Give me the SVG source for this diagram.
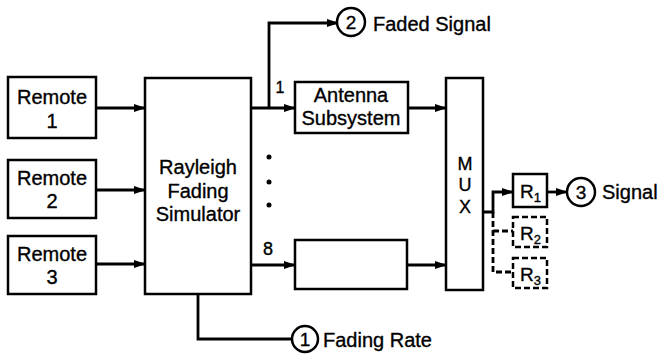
<svg xmlns="http://www.w3.org/2000/svg" width="661" height="355" viewBox="0 0 661 355">
<style>
.box{fill:#fff;stroke:#000;stroke-width:2.5}
.dbox{fill:#fff;stroke:#000;stroke-width:2.5;stroke-dasharray:6 3}
.ln{fill:none;stroke:#000;stroke-width:2.8}
.dln{fill:none;stroke:#000;stroke-width:2.8;stroke-dasharray:6 3}
.arr{marker-end:url(#ah)}
text{font-family:"Liberation Sans",Arial,sans-serif;font-size:20px;fill:#000;stroke:#000;stroke-width:0.35}
.c{text-anchor:middle}
.circ{fill:#fff;stroke:#000;stroke-width:2.5}
</style>
<defs>
<marker id="ah" markerWidth="12" markerHeight="10" refX="11" refY="5" orient="auto" markerUnits="userSpaceOnUse">
<path d="M0,1 L12,5 L0,9 Z" fill="#000"/>
</marker>
</defs>
<g id="connectors">
<path class="ln arr" d="M96,108 H145"/>
<path class="ln arr" d="M96,190 H145"/>
<path class="ln arr" d="M96,264 H145"/>
<path class="ln arr" d="M251,108 H295"/>
<path class="ln arr" d="M269,108 V23 H338"/>
<path class="ln arr" d="M251,265 H295"/>
<path class="ln arr" d="M408,108 H446"/>
<path class="ln arr" d="M408,265 H446"/>
<path class="ln" d="M198,294 V339 H292"/>
<path class="ln arr" d="M483,212 H493 V192 H513"/>
<path class="dln" d="M493,212 V272 H513"/>
<path class="dln" d="M493,231 H513"/>
<path class="ln arr" d="M547,192 H567"/>
<circle cx="269" cy="157" r="2.5" fill="#000"/>
<circle cx="269" cy="182" r="2.5" fill="#000"/>
<circle cx="269" cy="205" r="2.5" fill="#000"/>
<text x="280" y="93" class="c" style="font-size:16px">1</text>
<text x="268" y="255" class="c" style="font-size:18px">8</text>
</g>
<g id="remote1"><rect class="box" x="8" y="77" width="88" height="61"/><text x="52" y="104" class="c">Remote</text><text x="52" y="128" class="c">1</text></g>
<g id="remote2"><rect class="box" x="8" y="160" width="88" height="58"/><text x="52" y="185" class="c">Remote</text><text x="52" y="208" class="c">2</text></g>
<g id="remote3"><rect class="box" x="8" y="236" width="88" height="58"/><text x="52" y="261" class="c">Remote</text><text x="52" y="284" class="c">3</text></g>
<g id="rayleigh"><rect class="box" x="145" y="78" width="106" height="216"/><text x="198" y="174" class="c">Rayleigh</text><text x="198" y="198" class="c">Fading</text><text x="198" y="221" class="c">Simulator</text></g>
<g id="antenna"><rect class="box" x="295" y="82" width="113" height="51"/><text x="351" y="102" class="c">Antenna</text><text x="351" y="125" class="c">Subsystem</text></g>
<g id="box8"><rect class="box" x="295" y="240" width="112" height="49"/></g>
<g id="mux"><rect class="box" x="446" y="78" width="37" height="212"/><text x="465" y="170" class="c" style="font-size:18px">M</text><text x="465" y="191" class="c" style="font-size:18px">U</text><text x="465" y="213" class="c" style="font-size:18px">X</text></g>
<g id="r1"><rect class="box" x="513" y="174" width="34" height="33"/><text x="520" y="198" style="font-size:19px">R<tspan dy="4" style="font-size:13px">1</tspan></text></g>
<g id="r2"><rect class="dbox" x="513" y="217" width="34" height="30"/><text x="520" y="240" style="font-size:19px">R<tspan dy="4" style="font-size:13px">2</tspan></text></g>
<g id="r3"><rect class="dbox" x="513" y="258" width="34" height="30"/><text x="520" y="281" style="font-size:19px">R<tspan dy="4" style="font-size:13px">3</tspan></text></g>
<g id="out1"><circle class="circ" cx="305" cy="339" r="13"/><text x="305" y="346" class="c" style="font-size:19px">1</text><text x="323" y="347">Fading Rate</text></g>
<g id="out2"><circle class="circ" cx="351" cy="22" r="14"/><text x="351" y="29" class="c" style="font-size:19px">2</text><text x="373" y="31">Faded Signal</text></g>
<g id="out3"><circle class="circ" cx="581" cy="192" r="14"/><text x="581" y="199" class="c" style="font-size:19px">3</text><text x="602" y="199">Signal</text></g>
</svg>
